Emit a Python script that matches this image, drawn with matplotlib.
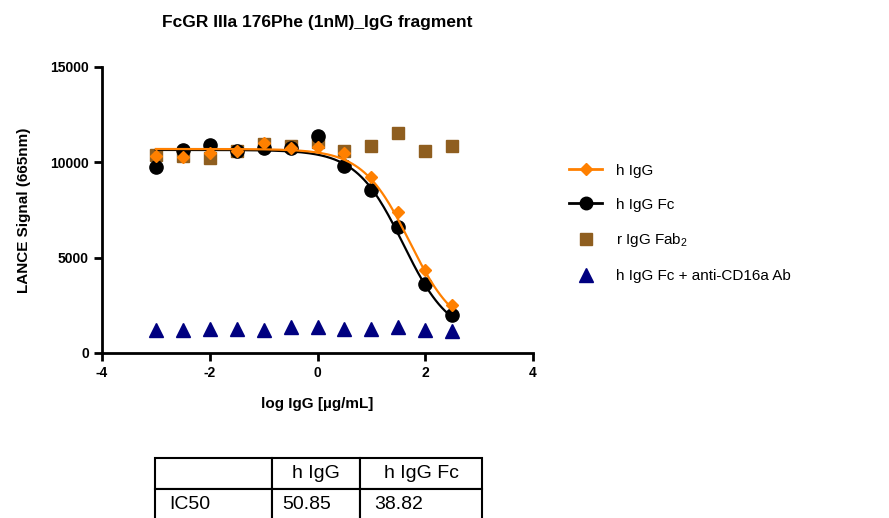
import numpy as np
import matplotlib.pyplot as plt

plt.rcParams['font.family'] = ['Liberation Sans', 'DejaVu Sans']
plt.rcParams['mathtext.fontset'] = 'custom'
plt.rcParams['mathtext.rm'] = 'Liberation Sans'
plt.rcParams['axes.unicode_minus'] = False

# log concentration (ug/mL)
log_conc = np.array([-3, -2.5, -2, -1.5, -1, -0.5, 0, 0.5, 1, 1.5, 2, 2.5])

h_igg = [10350, 10260, 10470, 10575, 11010, 10730, 10780, 10470, 9210, 7420, 4330, 2500]
h_igg_fc = [9770, 10645, 10920, 10610, 10730, 10730, 11380, 9820, 8550, 6600, 3630, 1990]
r_igg_fab2 = [10380, 10350, 10230, 10610, 10960, 10870, 11050, 10610, 10870, 11520, 10575, 10870]
h_igg_fc_ab = [1190, 1220, 1270, 1270, 1190, 1360, 1360, 1270, 1240, 1360, 1190, 1150]

# 4PL fit parameters (top, bottom, logIC50, hill)
fit_h_igg = (10700, 1000, np.log10(50.85), 1.0)
fit_h_igg_fc = (10650, 800, np.log10(38.82), 1.0)

ic50_cols = ['', 'h IgG', 'h IgG Fc']
ic50_row = ['IC50', '50.85', '38.82']


def four_pl(x, top, bottom, logc, hill):
  return bottom + (top - bottom) / (1 + 10 ** ((x - logc) * hill))


fig = plt.figure(figsize=(8.89, 5.18), dpi=100)
ax = fig.add_axes([102/889, 1-353/518, 431/889, 286/518])

xs = np.linspace(log_conc[0], log_conc[-1], 200)
orange = '#FF8000'
brown = '#8F5E1F'
navy = '#000080'

ax.plot(log_conc, r_igg_fab2, 's', color=brown, ms=9, zorder=2)
ax.plot(xs, four_pl(xs, *fit_h_igg_fc), color='black', lw=1.6, zorder=3)
ax.plot(log_conc, h_igg_fc, 'o', color='black', ms=9.5, zorder=3)
ax.plot(xs, four_pl(xs, *fit_h_igg), color=orange, lw=1.6, zorder=4)
ax.plot(log_conc, h_igg, 'D', color=orange, ms=6.5, zorder=5)
ax.plot(log_conc, h_igg_fc_ab, '^', color=navy, ms=10, zorder=2)

# legend handles
l1, = ax.plot([], [], color=orange, marker='D', ms=6, lw=2)
l2, = ax.plot([], [], color='black', marker='o', ms=9, lw=2)
l3, = ax.plot([], [], 's', color=brown, ms=9)
l4, = ax.plot([], [], '^', color=navy, ms=10)
fig.legend([l1, l2, l3, l4],
           ['h IgG', 'h IgG Fc', 'r IgG Fab$_2$', 'h IgG Fc + anti-CD16a Ab'],
           loc='upper left', bbox_to_anchor=(555/889, 1-150/518),
           frameon=False, fontsize=11, handlelength=2.2, labelspacing=1.3,
           handletextpad=0.9)

ax.set_xlim(-4, 4)
ax.set_ylim(0, 15000)
ax.set_xticks([-4, -2, 0, 2, 4])
ax.set_yticks([0, 5000, 10000, 15000])
for s in ['top', 'right']:
  ax.spines[s].set_visible(False)
for s in ['left', 'bottom']:
  ax.spines[s].set_linewidth(2)
ax.tick_params(width=2, length=6, labelsize=10)
for lab in ax.get_xticklabels() + ax.get_yticklabels():
  lab.set_fontweight('bold')

ax.set_xlabel('log IgG [µg/mL]', fontsize=11, fontweight='bold', labelpad=12)
ax.set_ylabel('LANCE Signal (665nm)', fontsize=11, fontweight='bold', labelpad=14)
fig.text(317/889, 1-22/518, 'FcGR IIIa 176Phe (1nM)_IgG fragment',
         ha='center', va='center', fontsize=12.5, fontweight='bold')

# IC50 table
tax = fig.add_axes([155/889, -2/518, 327/889, 62/518])
tax.axis('off')
tbl = tax.table(cellText=[ic50_row], colLabels=ic50_cols,
                colWidths=[117, 88, 122], cellLoc='left', bbox=[0, 0, 1, 1])
tbl.auto_set_font_size(False)
tbl.set_fontsize(14)
for (r, c), cell in tbl.get_celld().items():
  cell.set_linewidth(1.5)
  cell.PAD = 0.12

plt.savefig('out.png', dpi=100)
